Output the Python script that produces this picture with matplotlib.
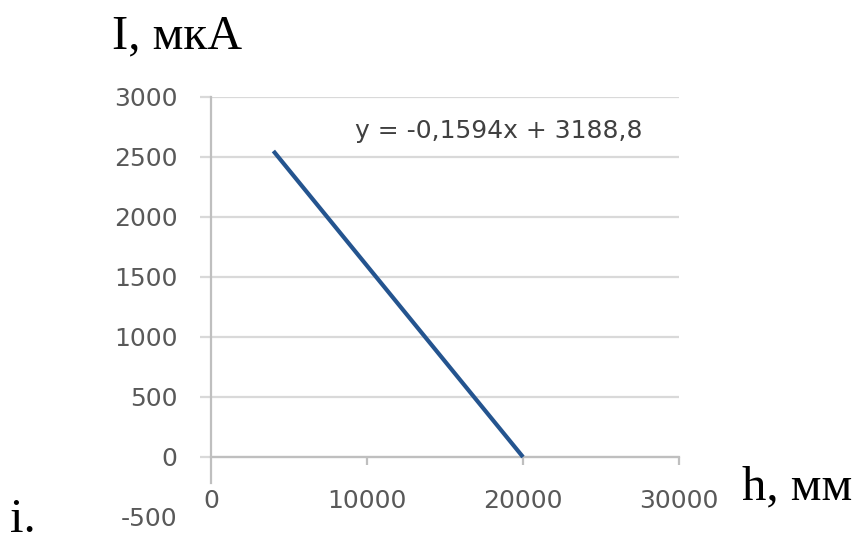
import matplotlib
matplotlib.use('Agg')
import matplotlib.pyplot as plt

plt.rcParams['axes.unicode_minus'] = False

# data
h_mm = [4000, 20000]
i_mka = [2550, 0]
xticks = [0, 10000, 20000, 30000]
yticks = [-500, 0, 500, 1000, 1500, 2000, 2500, 3000]
eq_text = 'y = -0,1594x + 3188,8'

grid_c = '#d9d9d9'
axis_c = '#bfbfbf'
lab_c = '#595959'

fig = plt.figure(figsize=(8.55, 5.38), dpi=100)
ax = fig.add_axes([211/855, 1-517/538, (679-211)/855, (517-97)/538])

ax.plot(h_mm, i_mka, color='#24548f', lw=3, solid_capstyle='butt', zorder=3)

ax.set_xlim(0, 30000)
ax.set_ylim(-500, 3000)
ax.set_xticks(xticks)
ax.set_yticks(yticks)

for s in ['top', 'right']:
  ax.spines[s].set_visible(False)
ax.spines['bottom'].set_position(('data', 0))
ax.spines['bottom'].set_color(axis_c)
ax.spines['bottom'].set_linewidth(1.6)
ax.spines['left'].set_color(axis_c)
ax.spines['left'].set_linewidth(1.6)
ax.spines['left'].set_bounds(-220, 3000)

ax.yaxis.grid(True, color=grid_c, lw=1.6)
ax.set_axisbelow(True)
ax.tick_params(axis='y', length=8, width=1.6, color=grid_c, pad=16, labelsize=18, labelcolor=lab_c)
ax.tick_params(axis='x', length=6, width=1.6, color=axis_c, pad=17, labelsize=18, labelcolor=lab_c)

# no gridline / tick at the -500 level, no tick at x=0
yt = ax.yaxis.get_major_ticks()
yt[0].tick1line.set_visible(False)
yt[0].gridline.set_visible(False)
ax.xaxis.get_major_ticks()[0].tick1line.set_visible(False)

ax.text(9250, 2660, eq_text, fontsize=18, color='#404040', va='baseline', ha='left')

serif = 'Liberation Serif'
fig.text(112/855, 1-48/538, 'I, мкА', family=serif, fontsize=35, va='baseline', ha='left')
fig.text(742/855, 1-499/538, 'h, мм', family=serif, fontsize=35, va='baseline', ha='left')
fig.text(10/855, 0.012, 'i.', family=serif, fontsize=35, va='baseline', ha='left')

fig.savefig('out.png', dpi=100)
